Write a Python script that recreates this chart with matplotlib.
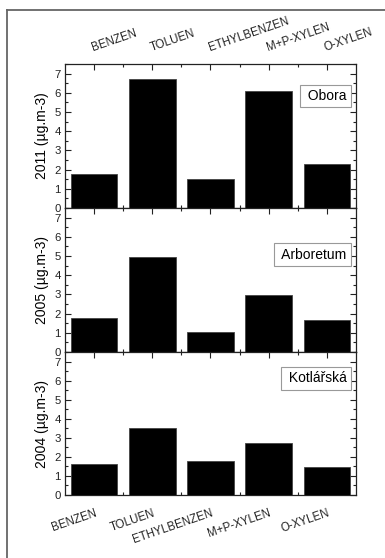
import matplotlib
matplotlib.use("Agg")
import matplotlib.pyplot as plt
from matplotlib.ticker import MultipleLocator, FixedLocator
from matplotlib.lines import Line2D

plt.rcParams['font.family'] = ['Liberation Sans', 'DejaVu Sans']

compounds = ["BENZEN", "TOLUEN", "ETHYLBENZEN", "M+P-XYLEN", "O-XYLEN"]
obora_2011 = [1.78, 6.72, 1.53, 6.10, 2.28]
arboretum_2005 = [1.78, 4.95, 1.05, 2.97, 1.65]
kotlarska_2004 = [1.62, 3.49, 1.76, 2.74, 1.45]

panels = [
    ("2011 (µg.m-3)", "Obora", obora_2011),
    ("2005 (µg.m-3)", "Arboretum", arboretum_2005),
    ("2004 (µg.m-3)", "Kotlářská", kotlarska_2004),
]
site_label_y = [0.78, 0.677, 0.815]

W, H = 385, 558
fig = plt.figure(figsize=(W / 100, H / 100), dpi=100)

# outer frame (only top and left edges fall inside the canvas)
fig.add_artist(Line2D([7 / W, 7 / W], [0, 1 - 10 / H], color="#666666", lw=1.3,
                      transform=fig.transFigure))
fig.add_artist(Line2D([7 / W, 1], [1 - 10 / H, 1 - 10 / H], color="#666666", lw=1.3,
                      transform=fig.transFigure))

left, right = 65 / W, 356 / W
bottoms_px = [208, 352, 495]
heights_px = [144, 144, 143]

x = list(range(len(compounds)))
for i, ((ylab, site, vals), bpx, hpx) in enumerate(zip(panels, bottoms_px, heights_px)):
    ax = fig.add_axes([left, (H - bpx) / H, right - left, hpx / H])
    ax.bar(x, vals, width=0.8, color="black", edgecolor="#444444", linewidth=0.6, zorder=3)
    ax.set_xlim(-0.5, 4.5)
    ax.set_ylim(0, 7.5)
    ax.yaxis.set_major_locator(MultipleLocator(1))
    ax.yaxis.set_minor_locator(MultipleLocator(0.5))
    ax.xaxis.set_major_locator(FixedLocator(x))
    ax.xaxis.set_minor_locator(FixedLocator([0.5, 1.5, 2.5, 3.5]))
    ax.tick_params(axis="both", which="both", direction="in", top=True, right=True,
                   colors="#222222", width=0.8)
    ax.tick_params(axis="both", which="major", length=4, labelsize=8.2, pad=3)
    ax.tick_params(axis="both", which="minor", length=2.5)
    for s in ax.spines.values():
        s.set_color("#222222")
        s.set_linewidth(0.9)
    ax.set_ylabel(ylab, fontsize=10, labelpad=4)

    if i == 0:
        ax.xaxis.set_ticks_position("both")
        ax.tick_params(axis="x", labeltop=True, labelbottom=False, pad=7)
        ax.set_xticklabels(compounds, rotation=19, ha="left", va="bottom",
                           rotation_mode="anchor", fontsize=8.3)
        for lbl in ax.get_xticklabels():
            lbl.set_x(lbl.get_position()[0])
    elif i == 2:
        ax.tick_params(axis="x", labelbottom=True, pad=9)
        ax.set_xticklabels(compounds, rotation=19, ha="right", va="top",
                           rotation_mode="anchor", fontsize=8.3)
    else:
        ax.tick_params(axis="x", labelbottom=False)

    ax.text(0.968, site_label_y[i], " " + site, transform=ax.transAxes, ha="right",
            va="center", fontsize=10, zorder=5,
            bbox=dict(boxstyle="square,pad=0.3", fc="white", ec="#999999", lw=0.8))

fig.savefig("out.png", dpi=100)
